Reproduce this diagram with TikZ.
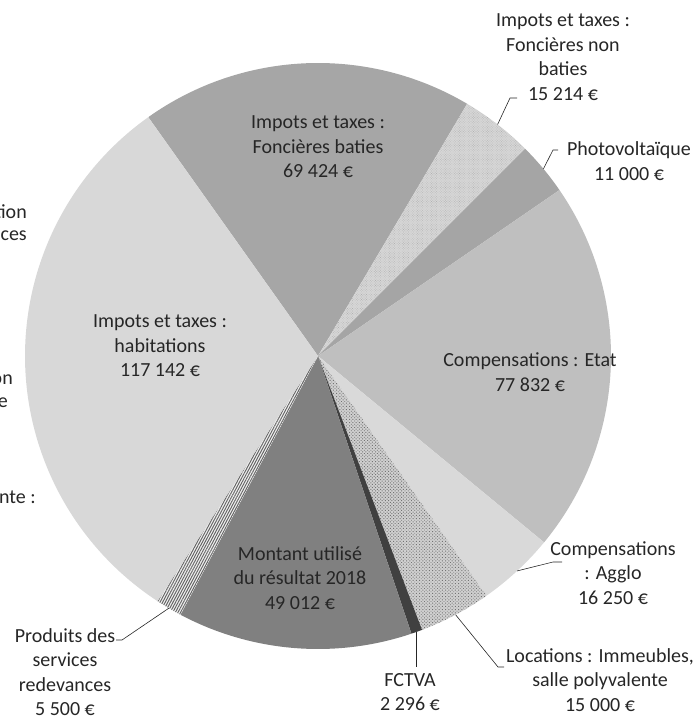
\documentclass[tikz,border=0pt]{standalone}
\usepackage{fontspec}
\setmainfont{Carlito}
\usetikzlibrary{patterns.meta}

\definecolor{baties}{HTML}{A6A6A6}
\definecolor{nonbaties}{HTML}{D6D6D6}
\definecolor{photo}{HTML}{A5A5A5}
\definecolor{etat}{HTML}{BFBFBF}
\definecolor{agglo}{HTML}{D9D9D9}
\definecolor{locations}{HTML}{D0D0D0}
\definecolor{fctva}{HTML}{404040}
\definecolor{montant}{HTML}{808080}
\definecolor{produits}{HTML}{F2F2F2}
\definecolor{habitations}{HTML}{D8D8D8}
\definecolor{ink}{HTML}{262626}

\tikzset{
  lbl/.style={align=center, font=\fontsize{20}{24.5}\selectfont, text=ink, inner sep=0pt},
  leader/.style={draw=ink, line width=0.6pt},
  sliceBaties/.style={fill=baties},
  sliceNonBaties/.style={preaction={fill=nonbaties},
    pattern={Dots[radius=0.45pt, distance=1.8pt, angle=45]}, pattern color=black!30},
  slicePhoto/.style={fill=photo},
  sliceEtat/.style={fill=etat},
  sliceAgglo/.style={fill=agglo},
  sliceLocations/.style={preaction={fill=locations},
    pattern={Dots[radius=0.65pt, distance=2.3pt, angle=45]}, pattern color=black!55},
  sliceFctva/.style={fill=fctva},
  sliceMontant/.style={fill=montant},
  sliceProduits/.style={preaction={fill=produits},
    pattern={Lines[angle=62, distance=2.3pt, line width=1pt]}, pattern color=black!60},
  sliceHabitations/.style={fill=habitations}
}

\begin{document}
\begin{tikzpicture}[x=1pt,y=1pt]
  \useasboundingbox (0,0) rectangle (697,717);

  % centre of the pie
  \coordinate (ctr) at (318,361);

  % slices, clockwise from the top left
  \foreach \from/\to/\kind in {125.4/59.4/sliceBaties, 59.4/45.0/sliceNonBaties,
      45.0/34.5/slicePhoto, 34.5/-39.5/sliceEtat, -39.5/-54.9/sliceAgglo,
      -54.9/-69.2/sliceLocations, -69.2/-71.4/sliceFctva,
      -71.4/-118.0/sliceMontant, -118.0/-123.2/sliceProduits,
      -123.2/-234.6/sliceHabitations}
    \path[\kind] (ctr) -- ++(\from:293pt)
      arc[start angle=\from, end angle=\to, radius=293pt] -- cycle;

  % labels inside the pie
  \node[lbl] (baties) at (318,570) {Impots et taxes :\\Foncières baties\\69 424 €};
  \node[lbl] (etat) at (530,345) {Compensations : Etat\\77 832 €};
  \node[lbl] (habitations) at (160,371) {Impots et taxes :\\habitations\\117 142 €};
  \node[lbl] (montant) at (300,139) {Montant utilisé\\du résultat 2018\\49 012 €};

  % labels outside the pie
  \node[lbl] (nonbaties) at (563,660) {Impots et taxes :\\Foncières non\\baties\\15 214 €};
  \node[lbl] (photo) at (629,556) {Photovoltaïque\\11 000 €};
  \node[lbl] (agglo) at (613,144) {Compensations\\: Agglo\\16 250 €};
  \node[lbl] (locations) at (600,37) {Locations : Immeubles,\\salle polyvalente\\15 000 €};
  \node[lbl] (fctva) at (410,25) {FCTVA\\2 296 €};
  \node[lbl] (produits) at (65,45) {Produits des\\services\\redevances\\5 500 €};

  % labels cut off at the left edge
  \node[lbl, anchor=east] (cutA) at (27,505) {tion};
  \node[lbl, anchor=east] (cutB) at (27,481) {ces};
  \node[lbl, anchor=east] (cutC) at (13,337) {on};
  \node[lbl, anchor=east] (cutD) at (8,314) {e};
  \node[lbl, anchor=east] (cutE) at (36,220) {nte :};

  % leader lines
  \path (ctr) ++(52.2:293pt) coordinate (nb-rim);
  \coordinate (nb-knee) at (510,619);
  \coordinate (nb-end) at (517,619);
  \path (ctr) ++(39.7:293pt) coordinate (ph-rim);
  \coordinate (ph-knee) at (553,567);
  \coordinate (ph-end) at (558,567);
  \path (ctr) ++(-47.2:293pt) coordinate (ag-rim);
  \coordinate (ag-knee) at (553,155);
  \coordinate (ag-end) at (562,155);
  \path (ctr) ++(-62.0:293pt) coordinate (lo-rim);
  \coordinate (lo-knee) at (498,50);
  \coordinate (lo-end) at (504,50);
  \path (ctr) ++(-70.3:293pt) coordinate (fc-rim);
  \coordinate (fc-end) at (fc-rim |- 0,50);
  \path (ctr) ++(-120.6:293pt) coordinate (pr-rim);
  \coordinate (pr-knee) at (122,77);
  \coordinate (pr-end) at (116,77);

  \draw[leader] (nb-rim) -- (nb-knee) -- (nb-end);
  \draw[leader] (ph-rim) -- (ph-knee) -- (ph-end);
  \draw[leader] (ag-rim) -- (ag-knee) -- (ag-end);
  \draw[leader] (lo-rim) -- (lo-knee) -- (lo-end);
  \draw[leader] (fc-rim) -- (fc-end);
  \draw[leader] (pr-rim) -- (pr-knee) -- (pr-end);
\end{tikzpicture}
\end{document}
